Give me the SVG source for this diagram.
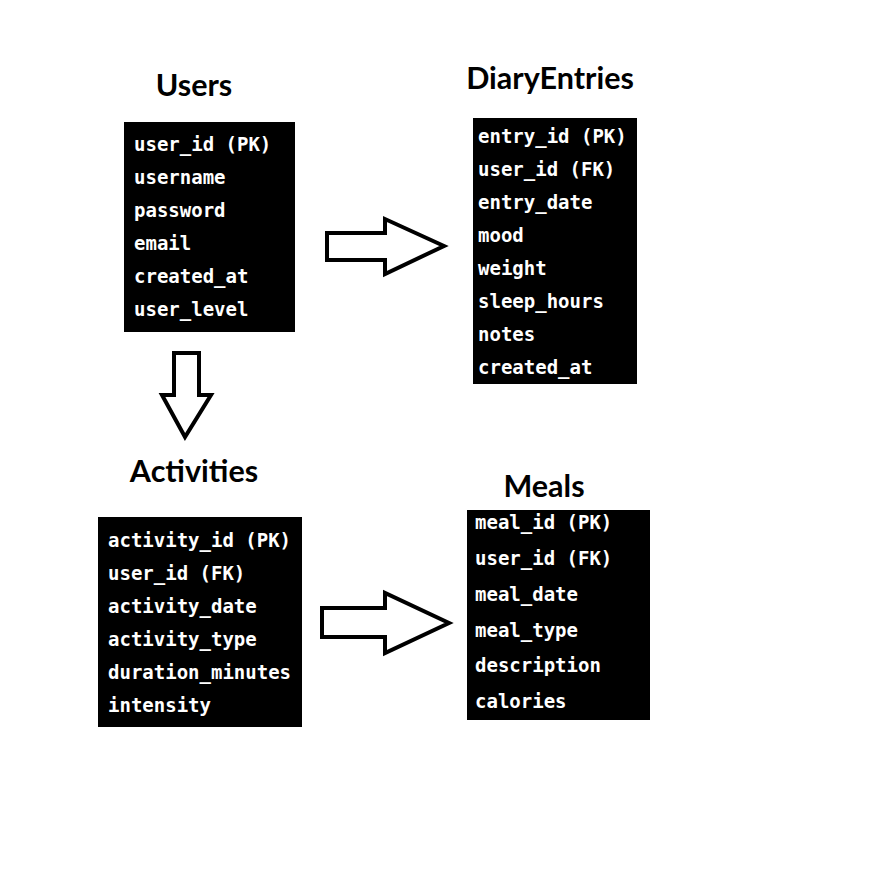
<svg xmlns="http://www.w3.org/2000/svg" width="877" height="876" viewBox="0 0 877 876">
<style>
.title{font-family:Lato,"Open Sans","Liberation Sans",sans-serif;font-weight:bold;font-size:30.5px;fill:#000;text-anchor:middle}
.box{fill:#000}
.f{font-family:"DejaVu Sans Mono","Liberation Mono",monospace;font-weight:bold;font-size:19px;fill:#fff}
.arrow{fill:#fff;stroke:#000;stroke-width:4;stroke-linejoin:miter}
</style>
<rect width="877" height="876" fill="#fff"/>
<g id="users">
<text class="title" x="194" y="96">Users</text>
<rect class="box" x="124" y="122" width="171" height="210"/>
<text class="f" x="134" y="151">user_id (PK)</text>
<text class="f" x="134" y="184">username</text>
<text class="f" x="134" y="217">password</text>
<text class="f" x="134" y="250">email</text>
<text class="f" x="134" y="283">created_at</text>
<text class="f" x="134" y="316">user_level</text>
</g>
<g id="diaryentries">
<text class="title" x="550" y="89">DiaryEntries</text>
<rect class="box" x="473" y="118" width="164" height="266"/>
<text class="f" x="478" y="143">entry_id (PK)</text>
<text class="f" x="478" y="176">user_id (FK)</text>
<text class="f" x="478" y="209">entry_date</text>
<text class="f" x="478" y="242">mood</text>
<text class="f" x="478" y="275">weight</text>
<text class="f" x="478" y="308">sleep_hours</text>
<text class="f" x="478" y="341">notes</text>
<text class="f" x="478" y="374">created_at</text>
</g>
<g id="activities">
<text class="title" x="194" y="482">Activities</text>
<rect class="box" x="98" y="517" width="204" height="210"/>
<text class="f" x="108" y="547">activity_id (PK)</text>
<text class="f" x="108" y="580">user_id (FK)</text>
<text class="f" x="108" y="613">activity_date</text>
<text class="f" x="108" y="646">activity_type</text>
<text class="f" x="108" y="679">duration_minutes</text>
<text class="f" x="108" y="712">intensity</text>
</g>
<g id="meals">
<text class="title" x="544" y="497">Meals</text>
<rect class="box" x="467" y="510" width="183" height="210"/>
<text class="f" x="475" y="529">meal_id (PK)</text>
<text class="f" x="475" y="565">user_id (FK)</text>
<text class="f" x="475" y="601">meal_date</text>
<text class="f" x="475" y="637">meal_type</text>
<text class="f" x="475" y="672">description</text>
<text class="f" x="475" y="708">calories</text>
</g>
<g id="connectors">
<polygon class="arrow" points="327,233 385,233 385,219 444,246 385,274 385,260 327,260"/>
<polygon class="arrow" points="174,353 199,353 199,395 211,395 185,437 162,395 174,395"/>
<polygon class="arrow" points="322,608 385,608 385,593 449,623 385,653 385,637 322,637"/>
</g>
</svg>
